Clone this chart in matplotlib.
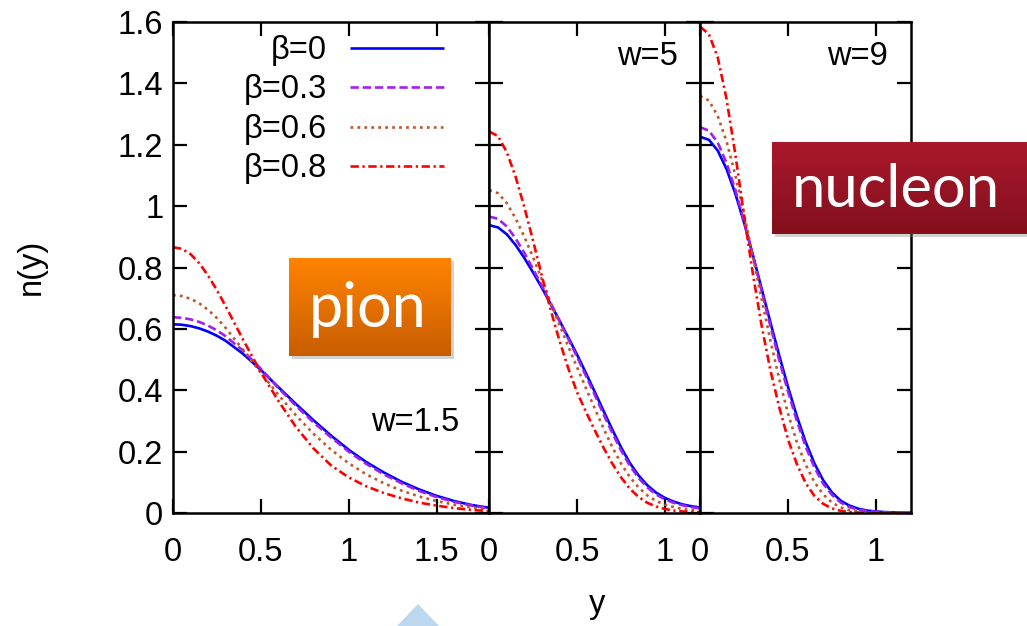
import numpy as np
import matplotlib
matplotlib.use('Agg')
import matplotlib.pyplot as plt
from matplotlib.patches import Polygon, Rectangle

plt.rcParams['font.family'] = ['Liberation Sans', 'DejaVu Sans']
plt.rcParams['lines.scale_dashes'] = False

# ---------------- data ----------------
beta_labels = ['β=0', 'β=0.3', 'β=0.6', 'β=0.8']
panel_labels = ['w=1.5', 'w=5', 'w=9']

x_pion = [0.0, 0.05, 0.1, 0.15, 0.2, 0.25, 0.3, 0.4, 0.5, 0.6, 0.7, 0.8, 0.9, 1.0,
          1.1, 1.2, 1.3, 1.4, 1.5, 1.6, 1.7, 1.8]
n_pion_b0 = [0.615, 0.6135, 0.609, 0.6015, 0.591, 0.5775, 0.561, 0.518, 0.466, 0.41, 0.355,
             0.302, 0.252, 0.206, 0.166, 0.132, 0.102, 0.077, 0.056, 0.039, 0.026, 0.017]
n_pion_b03 = [0.638, 0.636, 0.631, 0.6225, 0.6105, 0.595, 0.576, 0.528, 0.47, 0.407, 0.349,
              0.295, 0.246, 0.200, 0.160, 0.126, 0.097, 0.072, 0.052, 0.036, 0.024, 0.015]
n_pion_b06 = [0.71, 0.707, 0.698, 0.683, 0.662, 0.635, 0.603, 0.531, 0.457, 0.385, 0.318,
              0.258, 0.206, 0.162, 0.126, 0.097, 0.073, 0.054, 0.039, 0.027, 0.018, 0.011]
n_pion_b08 = [0.866, 0.861, 0.8435, 0.8135, 0.7735, 0.726, 0.6735, 0.5635, 0.4585, 0.365, 0.28,
              0.21, 0.155, 0.116, 0.087, 0.065, 0.048, 0.034, 0.024, 0.016, 0.010, 0.006]

x_w = [0.0, 0.05, 0.1, 0.15, 0.2, 0.25, 0.3, 0.35, 0.4, 0.45, 0.5, 0.55, 0.6,
       0.65, 0.7, 0.75, 0.8, 0.85, 0.9, 0.95, 1.0, 1.05, 1.1, 1.15, 1.2]
n_w5_b0 = [0.938, 0.9305, 0.908, 0.873, 0.8305, 0.783, 0.733, 0.6805, 0.6265, 0.5715, 0.5155,
           0.456, 0.395, 0.333, 0.272, 0.214, 0.163, 0.122, 0.090, 0.066, 0.049, 0.037,
           0.028, 0.022, 0.018]
n_w5_b03 = [0.966, 0.9585, 0.9335, 0.8945, 0.847, 0.7945, 0.7395, 0.683, 0.6255, 0.567, 0.508,
            0.447, 0.385, 0.322, 0.261, 0.204, 0.154, 0.114, 0.083, 0.060, 0.044, 0.033,
            0.025, 0.019, 0.015]
n_w5_b06 = [1.052, 1.042, 1.0095, 0.9595, 0.8995, 0.832, 0.7595, 0.6845, 0.612, 0.542, 0.4745,
            0.407, 0.341, 0.276, 0.215, 0.161, 0.117, 0.083, 0.057, 0.039, 0.027, 0.019,
            0.013, 0.009, 0.007]
n_w5_b08 = [1.243, 1.228, 1.1755, 1.0955, 0.9955, 0.8855, 0.7705, 0.6605, 0.5605, 0.4705, 0.393,
            0.330, 0.270, 0.213, 0.161, 0.116, 0.079, 0.052, 0.033, 0.021, 0.013, 0.008,
            0.005, 0.003, 0.002]

n_w9_b0 = [1.226, 1.216, 1.181, 1.121, 1.041, 0.946, 0.841, 0.731, 0.621, 0.5135, 0.411,
           0.316, 0.232, 0.162, 0.107, 0.067, 0.040, 0.024, 0.014, 0.008, 0.005, 0.003,
           0.002, 0.001, 0.001]
n_w9_b03 = [1.257, 1.246, 1.207, 1.141, 1.0535, 0.951, 0.8385, 0.7235, 0.6085, 0.4985, 0.396,
            0.301, 0.217, 0.149, 0.096, 0.059, 0.034, 0.019, 0.011, 0.006, 0.004, 0.002,
            0.001, 0.0, 0.0]
n_w9_b06 = [1.359, 1.344, 1.294, 1.2115, 1.1015, 0.974, 0.8365, 0.6965, 0.5615, 0.4365, 0.324,
            0.232, 0.158, 0.101, 0.061, 0.034, 0.018, 0.009, 0.004, 0.002, 0.001, 0.0,
            0.0, 0.0, 0.0]
n_w9_b08 = [1.585, 1.56, 1.485, 1.35, 1.17, 0.97, 0.78, 0.61, 0.465, 0.345, 0.24,
            0.16, 0.098, 0.056, 0.030, 0.015, 0.007, 0.003, 0.0015, 0.0007, 0.0, 0.0,
            0.0, 0.0, 0.0]

y_ticks = [0, 0.2, 0.4, 0.6, 0.8, 1.0, 1.2, 1.4, 1.6]
y_ticklabels = ['0', '0.2', '0.4', '0.6', '0.8', '1', '1.2', '1.4', '1.6']
x_ticks_pion = [0, 0.5, 1.0, 1.5]
x_ticklabels_pion = ['0', '0.5', '1', '1.5']
x_ticks_w = [0, 0.5, 1.0]
x_ticklabels_w = ['0', '0.5', '1']

# ---------------- style ----------------
colors = ['#0000FF', '#A020F0', '#C0562A', '#FF0000']
styles = ['-', (0, (6.0, 2.8)), (0, (2.0, 3.0)), (0, (6.0, 2.6, 1.6, 2.6))]
lw = 1.9
FS = 23.5

W, H = 1027, 626
fig = plt.figure(figsize=(W / 100, H / 100), dpi=100)
fig.patch.set_facecolor('white')

left_px, right_px, top_px, bot_px = 173, 911, 22, 513
gs = fig.add_gridspec(1, 3, width_ratios=[1.8, 1.2, 1.2],
                      left=left_px / W, right=right_px / W,
                      top=1 - top_px / H, bottom=1 - bot_px / H, wspace=0)

panels = [
    (x_pion, [n_pion_b0, n_pion_b03, n_pion_b06, n_pion_b08], (0, 1.8), x_ticks_pion, x_ticklabels_pion),
    (x_w, [n_w5_b0, n_w5_b03, n_w5_b06, n_w5_b08], (0, 1.2), x_ticks_w, x_ticklabels_w),
    (x_w, [n_w9_b0, n_w9_b03, n_w9_b06, n_w9_b08], (0, 1.2), x_ticks_w, x_ticklabels_w),
]

axes = []
for i, (xs, series, xlim, xt, xtl) in enumerate(panels):
    ax = fig.add_subplot(gs[0, i])
    axes.append(ax)
    for j, ys in enumerate(series):
        ax.plot(xs, ys, color=colors[j], linestyle=styles[j], lw=lw,
                label=beta_labels[j], solid_capstyle='butt', dash_capstyle='butt',
                solid_joinstyle='round')
    ax.set_xlim(*xlim)
    ax.set_ylim(0, 1.6)
    ax.set_xticks(xt)
    ax.set_xticklabels(xtl)
    ax.set_yticks(y_ticks)
    if i == 0:
        ax.set_yticklabels(y_ticklabels)
    else:
        ax.set_yticklabels([])
    ax.tick_params(direction='in', length=10, width=1.6, top=True, right=True,
                   labelsize=FS)
    ax.tick_params(axis='x', pad=17)
    ax.tick_params(axis='y', pad=7)
    for sp in ax.spines.values():
        sp.set_linewidth(1.8)

# panel labels
axes[0].text(0.905, 0.185, panel_labels[0], transform=axes[0].transAxes,
             ha='right', va='center', fontsize=FS)
axes[1].text(0.896, 0.929, panel_labels[1], transform=axes[1].transAxes,
             ha='right', va='center', fontsize=FS)
axes[2].text(0.89, 0.929, panel_labels[2], transform=axes[2].transAxes,
             ha='right', va='center', fontsize=FS)

# legend
leg = axes[0].legend(loc='upper right', bbox_to_anchor=((445 - 173) / 317, (513 - 35) / 491),
                     frameon=False, markerfirst=False, fontsize=FS, handlelength=2.9,
                     handletextpad=0.7, labelspacing=0.26, borderaxespad=0, borderpad=0)

fig.text(31 / W, 1 - 267 / H, 'n(y)', rotation=90, ha='center', va='center', fontsize=FS)
fig.text(597 / W, 1 - 605 / H, 'y', ha='center', va='center', fontsize=FS)

# ---------------- overlay: label boxes ----------------
ov = fig.add_axes([0, 0, 1, 1], zorder=10)
ov.set_xlim(0, W)
ov.set_ylim(H, 0)
ov.axis('off')


def grad_box(x0, x1, y0, y1, ctop, cbot, text, tsize, tx):
    ov.add_patch(Rectangle((x0 + 3, y0 + 3), x1 - x0, y1 - y0, color='#808080',
                           alpha=0.35, lw=0, zorder=1))
    c1 = np.array(matplotlib.colors.to_rgb(ctop))
    c2 = np.array(matplotlib.colors.to_rgb(cbot))
    t = np.linspace(0, 1, 64)[:, None]
    img = (c1[None, :] * (1 - t) + c2[None, :] * t)[:, None, :]
    ov.imshow(img, extent=[x0, x1, y1, y0], aspect='auto', zorder=2,
              interpolation='bilinear')
    ov.text(tx, (y0 + y1) / 2 + 2, text,
            color='white', fontsize=tsize, ha='center', va='center',
            family=['Lato', 'DejaVu Sans'], zorder=3)


grad_box(289, 451, 258, 356, '#FF8300', '#C85E00', 'pion', 44, 368)
grad_box(772, 1035, 142, 234, '#A9182B', '#83101E', 'nucleon', 43, 896)
ov.set_xlim(0, W)
ov.set_ylim(H, 0)

# decorative light-blue triangle at bottom
ov.add_patch(Polygon([[397, 626], [418, 604], [439, 626]], closed=True,
                     color='#BDD7EE', lw=0, zorder=1))

fig.savefig('out.png', dpi=100)
